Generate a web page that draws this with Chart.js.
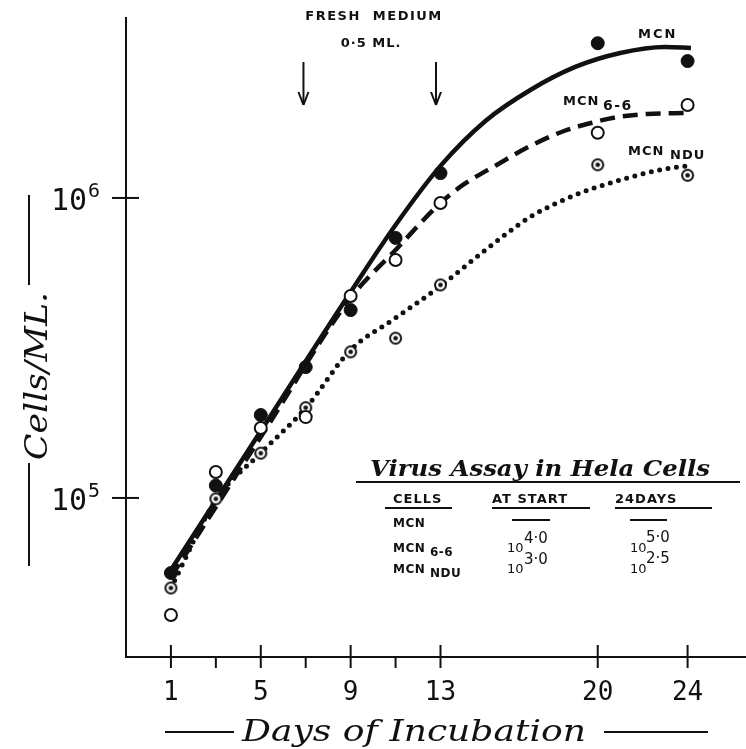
<!DOCTYPE html>
<html>
<head>
<meta charset="utf-8">
<script src="https://cdn.jsdelivr.net/npm/chart.js@4.4.1/dist/chart.umd.min.js"></script>
<style>
  html, body { margin: 0; padding: 0; background: #fff; }
  #wrap { width: 746px; height: 749px; }
</style>
</head>
<body>
<div id="wrap"><canvas id="grafico" width="746" height="749"></canvas></div>
<script>
// measured points (cells / ml)
const days = [1, 3, 5, 7, 9, 11, 13, 20, 24];
const mcnCells = [56200, 110000, 189000, 273000, 423000, 736000, 1210000, 3280000, 2860000];
const mcn66Cells = [40700, 122000, 171000, 186000, 471000, 621000, 962000, 1650000, 2040000];
const mcnNduCells = [50100, 99300, 141000, 200000, 307000, 341000, 513000, 1290000, 1190000];

// hand drawn curves
const mcnCurveDays = [1, 5, 9, 11, 13, 15, 17, 19, 21, 23, 24.15];
const mcnCurveCells = [57500, 167200, 486000, 812800, 1279000, 1806000, 2291000, 2734000, 3043000, 3187000, 3162000];
const mcn66CurveDays = [1, 5, 9, 11, 13, 14, 15.5, 17, 18.5, 19.7, 20.9, 22.2, 24];
const mcn66CurveCells = [54500, 159700, 464200, 670800, 962300, 1105000, 1288000, 1491000, 1672000, 1778000, 1862000, 1905000, 1920000];
const mcnNduCurveDays = [1, 3, 5, 7, 9, 11, 13, 15, 17, 19, 21, 23, 24];
const mcnNduCurveCells = [50100, 98500, 141300, 199500, 311400, 398100, 508800, 670800, 864600, 1023000, 1148000, 1250000, 1279000];

// axes
const xTicksMajor = [1, 5, 9, 13, 20, 24];
const xTicksMinor = [3, 7, 11];
const yTicks = [100000, 1000000];
const yTickExp = ['5', '6'];
const mediumDays = [6.9, 12.8];

// table
const assayHeaders = ['CELLS', 'AT START', '24DAYS'];
const assayCells = [['MCN', ''], ['MCN', '6-6'], ['MCN', 'NDU']];
const assayStart = ['', '4·0', '3·0'];
const assay24 = ['', '5·0', '2·5'];

const INK = '#111';

function pontos(xs, ys) {
  return xs.map((x, i) => ({ x: x, y: ys[i] }));
}

function circuloComPonto(r) {
  const c = document.createElement('canvas');
  const s = Math.ceil(r * 2 + 4);
  c.width = s; c.height = s;
  const g = c.getContext('2d');
  g.fillStyle = '#fff'; g.strokeStyle = INK; g.lineWidth = 2;
  g.beginPath(); g.arc(s / 2, s / 2, r, 0, Math.PI * 2); g.fill(); g.stroke();
  g.fillStyle = INK;
  g.beginPath(); g.arc(s / 2, s / 2, r * 0.42, 0, Math.PI * 2); g.fill();
  return c;
}

function texto(ctx, str, x, y, font, align, spacing) {
  ctx.font = font;
  ctx.textAlign = align || 'left';
  ctx.letterSpacing = (spacing || 0) + 'px';
  ctx.fillText(str, x, y);
  ctx.letterSpacing = '0px';
}

// centred text stretched horizontally to a given width
function textoLargura(ctx, str, cx, y, font, largura) {
  ctx.font = font;
  ctx.letterSpacing = '0px';
  const w = ctx.measureText(str).width;
  ctx.save();
  ctx.translate(cx, y);
  ctx.scale(largura / w, 1);
  ctx.textAlign = 'center';
  ctx.fillText(str, 0, 0);
  ctx.restore();
}

function linha(ctx, x1, y1, x2, y2, w) {
  ctx.lineWidth = w || 2;
  ctx.beginPath(); ctx.moveTo(x1, y1); ctx.lineTo(x2, y2); ctx.stroke();
}

const decoracao = {
  id: 'decoracao',
  afterDraw(chart) {
    const ctx = chart.ctx;
    const xs = chart.scales.x, ys = chart.scales.y;
    const area = chart.chartArea;
    ctx.save();
    ctx.fillStyle = INK; ctx.strokeStyle = INK;
    ctx.textBaseline = 'alphabetic';

    // x ticks
    xTicksMajor.forEach(d => {
      const px = xs.getPixelForValue(d);
      linha(ctx, px, area.bottom - 12, px, area.bottom + 11, 2);
      texto(ctx, String(d), px, area.bottom + 43, '26px "DejaVu Sans Mono"', 'center');
    });
    xTicksMinor.forEach(d => {
      const px = xs.getPixelForValue(d);
      linha(ctx, px, area.bottom, px, area.bottom + 11, 2);
    });

    // y ticks
    yTicks.forEach((v, i) => {
      const py = ys.getPixelForValue(v);
      linha(ctx, area.left - 14, py, area.left + 13, py, 2);
      texto(ctx, '10', 87, py + 12, '30px "DejaVu Sans Mono"', 'right');
      texto(ctx, yTickExp[i], 88, py - 1, '20px "DejaVu Sans Mono"', 'left');
    });

    // y title
    ctx.save();
    ctx.translate(47, 376);
    ctx.rotate(-Math.PI / 2);
    textoLargura(ctx, 'Cells/ML.', 0, 0, 'italic 31px "DejaVu Serif"', 168);
    ctx.restore();
    linha(ctx, 29, 195, 29, 285, 2);
    linha(ctx, 29, 463, 29, 566, 2);

    // x title
    textoLargura(ctx, 'Days of Incubation', 414, 741, 'italic 29px "DejaVu Serif"', 344);
    linha(ctx, 165, 732, 234, 732, 2);
    linha(ctx, 604, 732, 708, 732, 2);

    // fresh medium arrows
    texto(ctx, 'FRESH  MEDIUM', 374, 20, 'bold 13px "DejaVu Sans"', 'center', 1.5);
    texto(ctx, '0·5 ML.', 371, 47, 'bold 13px "DejaVu Sans"', 'center', 1);
    mediumDays.forEach(d => {
      const px = xs.getPixelForValue(d);
      linha(ctx, px, 62, px, 104, 2);
      linha(ctx, px - 5, 92, px, 105, 2);
      linha(ctx, px + 5, 92, px, 105, 2);
    });

    // curve names
    texto(ctx, 'MCN', 638, 38, 'bold 13px "DejaVu Sans"', 'left', 2);
    texto(ctx, 'MCN', 563, 105, 'bold 13px "DejaVu Sans"', 'left', 1);
    texto(ctx, '6-6', 603, 110, 'bold 14px "DejaVu Sans"', 'left', 1.5);
    texto(ctx, 'MCN', 628, 155, 'bold 13px "DejaVu Sans"', 'left', 1);
    texto(ctx, 'NDU', 670, 159, 'bold 13px "DejaVu Sans"', 'left', 1);

    // assay table
    textoLargura(ctx, 'Virus Assay in Hela Cells', 540, 476, 'italic bold 23px "DejaVu Serif"', 340);
    linha(ctx, 356, 482, 740, 482, 2);
    const colX = [393, 492, 615];
    const ulX = [[385, 452], [492, 590], [615, 712]];
    assayHeaders.forEach((h, i) => {
      texto(ctx, h, colX[i], 503, 'bold 13px "DejaVu Sans"', 'left', 1);
      linha(ctx, ulX[i][0], 508, ulX[i][1], 508, 2);
    });
    const rowY = [527, 552, 573];
    assayCells.forEach((c, i) => {
      texto(ctx, c[0], 393, rowY[i], 'bold 12px "DejaVu Sans"', 'left', 0.5);
      if (c[1]) texto(ctx, c[1], 430, rowY[i] + 4, 'bold 12px "DejaVu Sans"', 'left', 0.5);
      if (assayStart[i]) {
        texto(ctx, '10', 507, rowY[i], '13px "DejaVu Sans"', 'left');
        texto(ctx, assayStart[i], 524, rowY[i] - 9, '15px "DejaVu Sans"', 'left');
      } else {
        linha(ctx, 512, rowY[i] - 7, 550, rowY[i] - 7, 2);
      }
      if (assay24[i]) {
        texto(ctx, '10', 630, rowY[i], '13px "DejaVu Sans"', 'left');
        texto(ctx, assay24[i], 646, rowY[i] - 10, '15px "DejaVu Sans"', 'left');
      } else {
        linha(ctx, 630, rowY[i] - 7, 667, rowY[i] - 7, 2);
      }
    });

    ctx.restore();
  }
};

new Chart(document.getElementById('grafico'), {
  type: 'scatter',
  data: {
    datasets: [
      {
        label: 'MCN curva',
        data: pontos(mcnCurveDays, mcnCurveCells),
        showLine: true, pointRadius: 0, borderColor: INK, borderWidth: 4.5,
        cubicInterpolationMode: 'monotone', order: 2,
      },
      {
        label: 'MCN 6-6 curva',
        data: pontos(mcn66CurveDays, mcn66CurveCells),
        showLine: true, pointRadius: 0, borderColor: INK, borderWidth: 4.5,
        borderDash: [15, 8], cubicInterpolationMode: 'monotone', order: 2,
      },
      {
        label: 'MCN NDU curva',
        data: pontos(mcnNduCurveDays, mcnNduCurveCells),
        showLine: true, pointRadius: 0, borderColor: INK, borderWidth: 5,
        borderDash: [0, 8.5], borderCapStyle: 'round',
        cubicInterpolationMode: 'monotone', order: 2,
      },
      {
        label: 'MCN',
        data: pontos(days, mcnCells),
        pointRadius: 6.5, pointBackgroundColor: INK, pointBorderColor: INK,
        pointBorderWidth: 1, order: 1,
      },
      {
        label: 'MCN 6-6',
        data: pontos(days, mcn66Cells),
        pointRadius: 6, pointBackgroundColor: '#fff', pointBorderColor: INK,
        pointBorderWidth: 2, order: 1,
      },
      {
        label: 'MCN NDU',
        data: pontos(days, mcnNduCells),
        pointStyle: circuloComPonto(5.5), order: 1,
      },
    ],
  },
  options: {
    responsive: false,
    animation: false,
    layout: { autoPadding: false, padding: { top: 18, right: 0, left: 0, bottom: 0 } },
    plugins: { legend: { display: false }, tooltip: { enabled: false } },
    scales: {
      x: {
        type: 'linear', min: -1, max: 26.6,
        grid: { display: false },
        border: { display: true, color: INK, width: 2 },
        ticks: { display: false },
        afterFit: (s) => { s.height = 92; },
      },
      y: {
        type: 'logarithmic', min: 29500, max: 3980000,
        grid: { display: false },
        border: { display: true, color: INK, width: 2 },
        ticks: { display: false },
        afterFit: (s) => { s.width = 126; },
      },
    },
  },
  plugins: [decoracao],
});
</script>
</body>
</html>
